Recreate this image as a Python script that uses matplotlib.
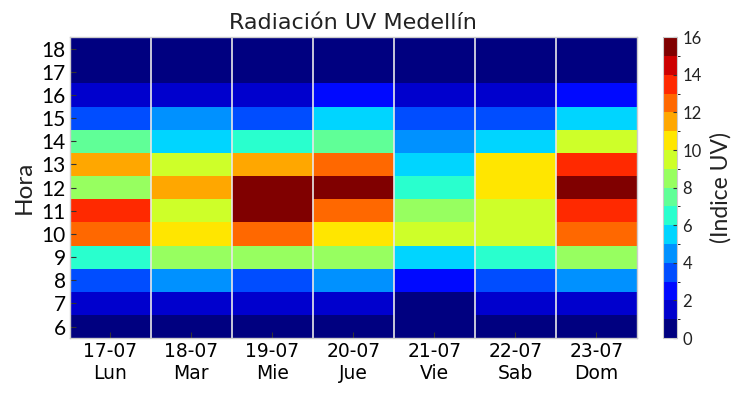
import numpy as np
import matplotlib
matplotlib.use("Agg")
import matplotlib.pyplot as plt
from matplotlib.colors import ListedColormap, BoundaryNorm

fechas = ["17-07", "18-07", "19-07", "20-07", "21-07", "22-07", "23-07"]
dias = ["Lun", "Mar", "Mie", "Jue", "Vie", "Sab", "Dom"]
horas = [6, 7, 8, 9, 10, 11, 12, 13, 14, 15, 16, 17, 18]

# UV index per day, hours 6..18
lun = [0, 1, 3, 6, 12, 13, 8, 11, 7, 3, 1, 0, 0]
mar = [0, 1, 4, 8, 10, 9, 11, 9, 5, 4, 1, 0, 0]
mie = [0, 1, 3, 8, 12, 15, 15, 11, 6, 3, 1, 0, 0]
jue = [0, 1, 4, 8, 10, 12, 15, 12, 7, 5, 2, 0, 0]
vie = [0, 0, 2, 5, 9, 8, 6, 5, 4, 3, 1, 0, 0]
sab = [0, 1, 3, 6, 9, 9, 10, 10, 5, 3, 1, 0, 0]
dom = [0, 1, 4, 8, 12, 13, 15, 13, 9, 5, 2, 0, 0]

datos = np.array([lun, mar, mie, jue, vie, sab, dom], dtype=float).T + 0.5

fig = plt.figure(figsize=(7.43, 3.95), dpi=100)
ax = fig.add_axes([0.094, 0.144, 0.763, 0.762])
cax = fig.add_axes([0.892, 0.144, 0.019, 0.762])

base = plt.get_cmap("jet")
cmap = ListedColormap(base(np.linspace(0, 1, 16)))
norm = BoundaryNorm(np.arange(0, 17, 1), 16)

xe = np.arange(len(fechas) + 1) - 0.5
ye = np.arange(len(horas) + 1) - 0.5
mesh = ax.pcolormesh(xe, ye, datos, cmap=cmap, norm=norm)

ax.set_xlim(-0.5, len(fechas) - 0.5)
ax.set_ylim(-0.5, len(horas) - 0.5)
ax.set_xticks(range(len(fechas)))
ax.set_xticklabels([f"{f}\n{d}" for f, d in zip(fechas, dias)],
                   fontsize=13.5, family=["Liberation Sans Narrow", "DejaVu Sans"])
ax.set_yticks(range(len(horas)))
ax.set_yticklabels([str(h) for h in horas], fontsize=15, family=["Lato", "DejaVu Sans"])
for xb in xe[1:-1]:
    ax.axvline(xb, color="#e8e8e8", lw=1.2)
ax.tick_params(direction="in", length=4, width=0.8, color="#333333", pad=3)
for s in ax.spines.values():
    s.set_color("#cccccc")
    s.set_linewidth(1)
ax.set_ylabel("Hora", fontsize=17.5, family=["Lato", "DejaVu Sans"], color="#222222", labelpad=5)
ax.set_title("Radiación UV Medellín", fontsize=16,
             family=["Liberation Sans Narrow", "DejaVu Sans"], color="#222222", pad=6)

cb = fig.colorbar(mesh, cax=cax, ticks=np.arange(0, 17, 2))
cb.outline.set_edgecolor("#cccccc")
cax.tick_params(direction="in", length=3, width=0.8, color="#333333", labelsize=12, pad=4)
for t in cax.get_yticklabels():
    t.set_family(["Lato", "DejaVu Sans"])
    t.set_color("#222222")
cb.set_label("(Indice UV)", fontsize=16.5, family=["Lato", "DejaVu Sans"], color="#222222", labelpad=6)

fig.savefig("out.png", dpi=100)
